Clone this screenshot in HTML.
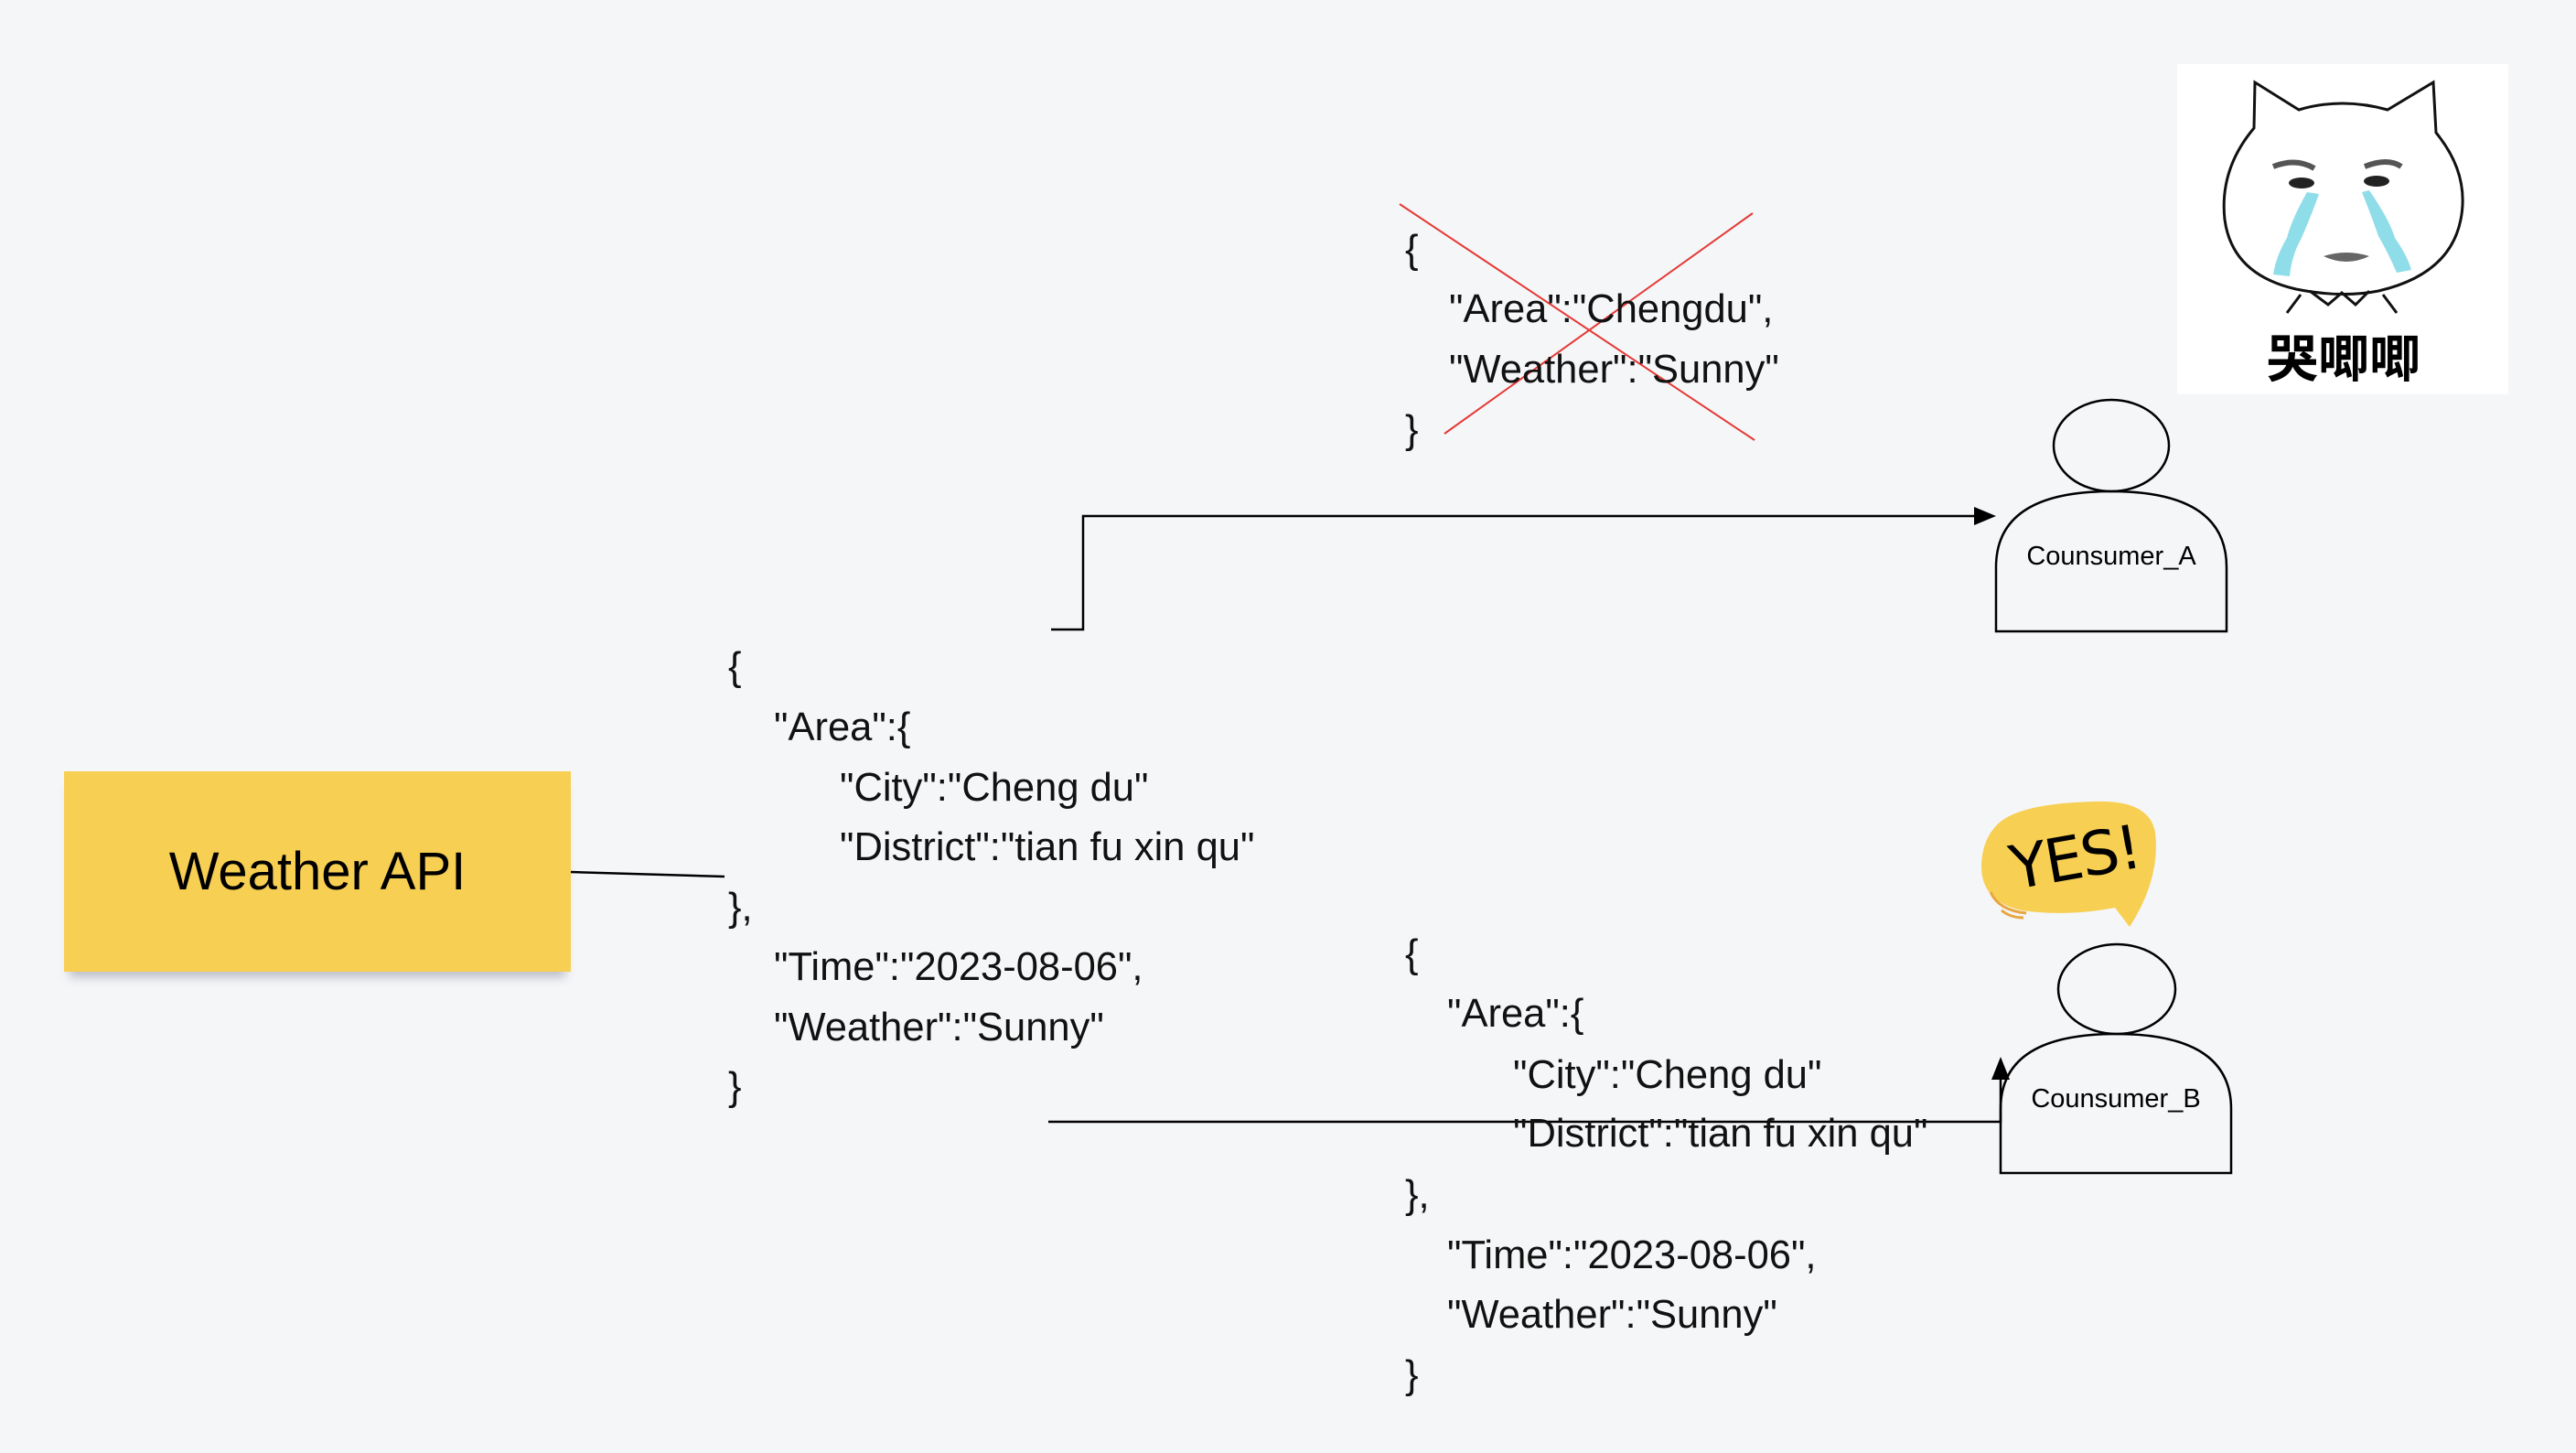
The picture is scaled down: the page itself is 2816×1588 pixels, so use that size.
<!DOCTYPE html>
<html><head><meta charset="utf-8"><style>
html,body{margin:0;padding:0;background:#f5f6f8;}
body{width:2816px;height:1588px;position:relative;overflow:hidden;font-family:"Liberation Sans",Arial,sans-serif;}
.j{position:absolute;font-size:43.5px;color:#111;white-space:pre;line-height:1;}
</style></head><body>
<div style="position:absolute;left:70px;top:843px;width:554px;height:219px;background:#f7cf52;box-shadow:0 12px 10px -6px rgba(80,90,110,0.35);"></div>
<div style="position:absolute;left:70px;top:843px;width:554px;height:219px;display:flex;align-items:center;justify-content:center;font-size:58px;color:#000;">Weather API</div>

<svg width="2816" height="1588" style="position:absolute;left:0;top:0">
<line x1="624" y1="953" x2="792" y2="958" stroke="#000" stroke-width="2.5"/>
<polyline points="1149,688 1184,688 1184,564 2162,564" fill="none" stroke="#000" stroke-width="2.5"/>
<polygon points="2182,564 2158,554 2158,574" fill="#000"/>
<polyline points="1146,1226 2187,1226 2187,1175" fill="none" stroke="#000" stroke-width="2.5"/>
<polygon points="2187,1155 2177,1180 2197,1180" fill="#000"/>
<line x1="1530" y1="223" x2="1918" y2="481" stroke="#e53935" stroke-width="2"/>
<line x1="1916" y1="233" x2="1579" y2="474" stroke="#e53935" stroke-width="2"/>
<!-- person A -->
<ellipse cx="2308" cy="487" rx="63" ry="50" fill="none" stroke="#000" stroke-width="2.5"/>
<path d="M2182,690 L2182,620 Q2182,537 2308,537 Q2434,537 2434,620 L2434,690 Z" fill="none" stroke="#000" stroke-width="2.5"/>
<text x="2308" y="617" font-size="29" text-anchor="middle" font-family="Liberation Sans">Counsumer_A</text>
<!-- person B -->
<ellipse cx="2314" cy="1081" rx="64" ry="49" fill="none" stroke="#000" stroke-width="2.5"/>
<path d="M2187,1282 L2187,1212 Q2187,1130 2313,1130 Q2439,1130 2439,1212 L2439,1282 Z" fill="none" stroke="#000" stroke-width="2.5"/>
<text x="2313" y="1210" font-size="29" text-anchor="middle" font-family="Liberation Sans">Counsumer_B</text>
<!-- bubble -->
<path d="M2180,905 Q2200,878 2290,876 Q2350,874 2356,910 Q2362,960 2328,1013 L2312,992 Q2260,1002 2210,995 Q2165,985 2166,945 Q2167,920 2180,905 Z" fill="#f7cf52"/>
<path d="M2176,975 Q2185,995 2215,998 M2188,995 Q2198,1003 2212,1003" fill="none" stroke="#e8a640" stroke-width="3"/>
<text x="2268" y="960" font-size="66" text-anchor="middle" transform="rotate(-10 2268 937)" font-family="DejaVu Sans" style="letter-spacing:-2px">YES!</text>
<!-- cat -->
<rect x="2380" y="70" width="362" height="361" fill="#fff"/>
<path d="M2464,140 L2465,90 L2513,120 Q2560,106 2610,120 L2660,90 L2663,145 Q2700,190 2690,240 Q2678,300 2600,318 Q2560,326 2510,316 Q2440,300 2432,240 Q2426,185 2464,140 Z" fill="#fff" stroke="#111" stroke-width="3"/>
<ellipse cx="2516" cy="200" rx="14" ry="6" fill="#222"/>
<ellipse cx="2598" cy="198" rx="14" ry="6" fill="#222"/>
<path d="M2485,182 Q2510,172 2530,184 M2585,182 Q2610,172 2625,182" stroke="#555" stroke-width="6" fill="none"/>
<path d="M2522,210 Q2505,240 2500,260 Q2488,280 2485,300 L2503,302 Q2505,280 2515,262 Q2525,240 2535,212 Z" fill="#8fdde8"/>
<path d="M2590,208 Q2612,240 2618,260 Q2632,280 2636,295 L2620,298 Q2610,275 2600,258 Q2592,235 2582,210 Z" fill="#8fdde8"/>
<path d="M2540,280 Q2565,272 2590,280 Q2565,292 2540,280 Z" fill="#666"/>
<path d="M2500,342 L2515,322 M2620,342 L2605,322 M2525,318 L2545,333 L2560,320 L2575,333 L2590,318" stroke="#111" stroke-width="3" fill="none"/>
<text x="2562" y="412" font-size="56" text-anchor="middle" font-weight="bold" font-family="Noto Sans CJK SC, sans-serif">哭唧唧</text>
</svg>

<div class="j" style="left:796px;top:708px">{</div>
<div class="j" style="left:846px;top:774px">"Area":{</div>
<div class="j" style="left:918px;top:840px">"City":"Cheng du"</div>
<div class="j" style="left:918px;top:905px">"District":"tian fu xin qu"</div>
<div class="j" style="left:796px;top:971px">},</div>
<div class="j" style="left:846px;top:1036px">"Time":"2023-08-06",</div>
<div class="j" style="left:846px;top:1102px">"Weather":"Sunny"</div>
<div class="j" style="left:796px;top:1167px">}</div>

<div class="j" style="left:1536px;top:252px">{</div>
<div class="j" style="left:1584px;top:317px">"Area":"Chengdu",</div>
<div class="j" style="left:1584px;top:383px">"Weather":"Sunny"</div>
<div class="j" style="left:1536px;top:449px">}</div>

<div class="j" style="left:1536px;top:1022px">{</div>
<div class="j" style="left:1582px;top:1087px">"Area":{</div>
<div class="j" style="left:1654px;top:1154px">"City":"Cheng du"</div>
<div class="j" style="left:1654px;top:1218px">"District":"tian fu xin qu"</div>
<div class="j" style="left:1536px;top:1285px">},</div>
<div class="j" style="left:1582px;top:1351px">"Time":"2023-08-06",</div>
<div class="j" style="left:1582px;top:1416px">"Weather":"Sunny"</div>
<div class="j" style="left:1536px;top:1482px">}</div>
</body></html>
